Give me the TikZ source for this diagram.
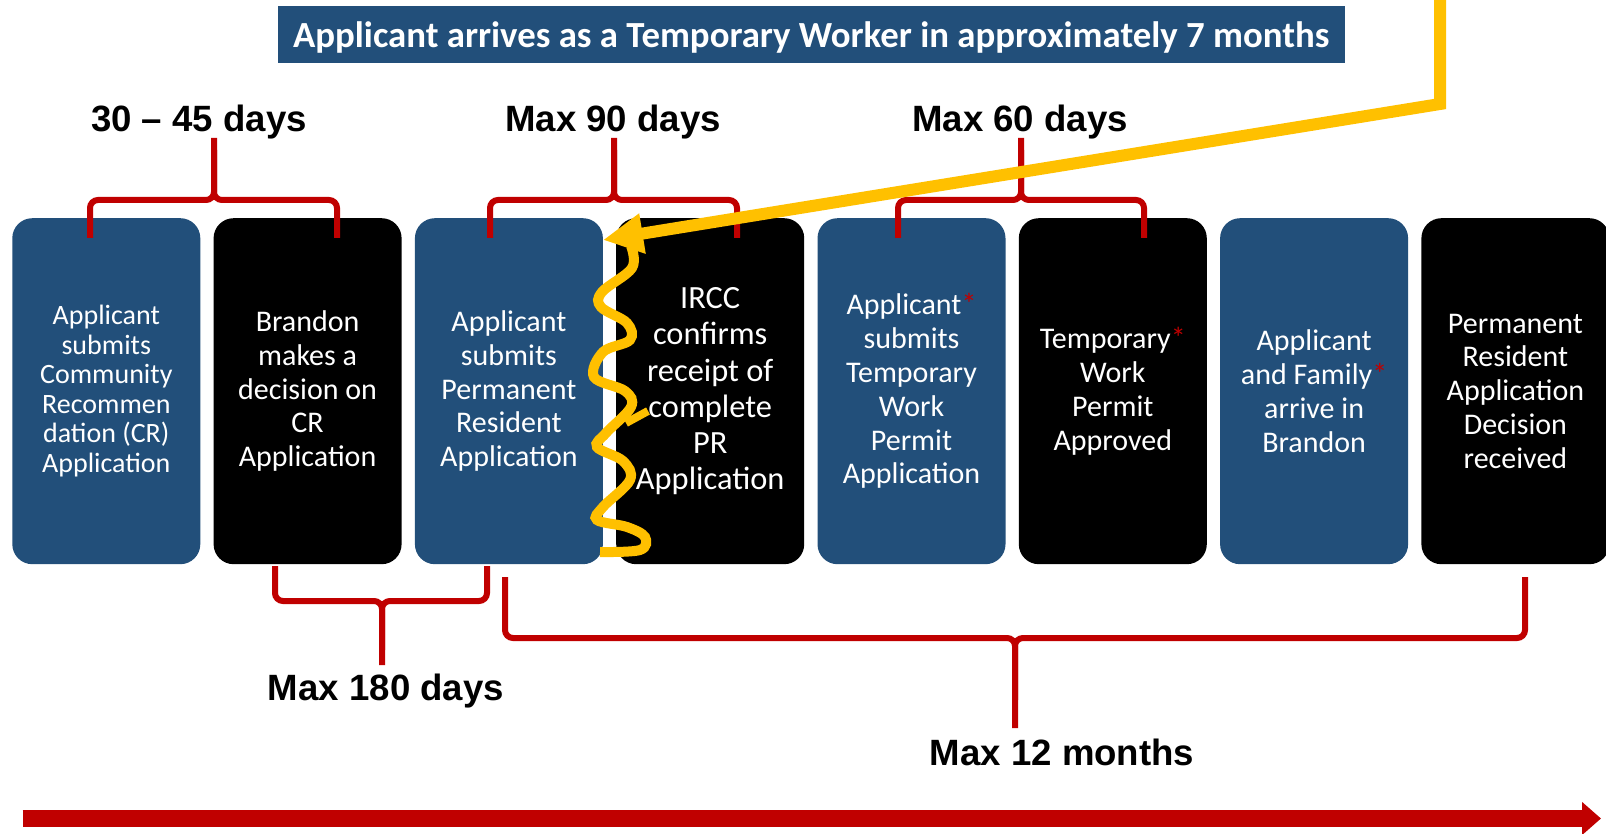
\documentclass[tikz,border=0pt]{standalone}
\usepackage{fontspec}
\setmainfont{Carlito}
\newfontfamily\labelfont{Liberation Sans}
\usetikzlibrary{arrows.meta}
\definecolor{boxblue}{RGB}{34,79,122}
\definecolor{bracered}{RGB}{192,0,0}
\definecolor{hookyellow}{RGB}{255,192,0}
\newcommand{\redstar}{\textcolor{bracered}{*}}

\begin{document}
\begin{tikzpicture}[x=0.5pt,y=-0.5pt]

      \useasboundingbox (0,0) rectangle (1606,834);

      \begin{scope}[every node/.style={rounded corners=10pt,minimum width=94pt,minimum height=173pt,
          inner sep=0pt,text=white,align=center,font=\fontsize{15}{16.9}\selectfont}]
        \node[fill=boxblue,font=\fontsize{14}{14.75}\selectfont] (b1) at (106.3,391.2)
          {Applicant\\submits\\Community\\Recommen\\dation (CR)\\Application};
        \node[fill=black]   (b2) at (307.6,391.2) {Brandon\\makes a\\decision on\\CR\\Application};
        \node[fill=boxblue] (b3) at (508.9,391.2) {Applicant\\submits\\Permanent\\Resident\\Application};
        \node[fill=black,font=\fontsize{16.2}{18.1}\selectfont] (b4) at (710.2,391.2)
          {IRCC\\confirms\\receipt of\\complete\\PR\\Application};
        \node[fill=boxblue] (b5) at (911.5,391.2) {Applicant\redstar\\submits\\Temporary\\Work\\Permit\\Application};
        \node[fill=black]   (b6) at (1112.8,391.2) {Temporary\redstar\\Work\\Permit\\Approved};
        \node[fill=boxblue] (b7) at (1314.1,391.2) {Applicant\\and Family\redstar\\arrive in\\Brandon};
        \node[fill=black]   (b8) at (1515.4,391.2) {Permanent\\Resident\\Application\\Decision\\received};
      \end{scope}

      \begin{scope}[bracered,line width=3pt,rounded corners=4pt]
        \draw (90,238) -- (90,200) -- (214,200) -- (214,138);
        \draw (337,238) -- (337,200) -- (214,200) -- (214,150);
        \draw (490,238) -- (490,200) -- (614,200) -- (614,138);
        \draw (737,238) -- (737,200) -- (614,200) -- (614,150);
        \draw (898,238) -- (898,200) -- (1021,200) -- (1021,138);
        \draw (1144,238) -- (1144,200) -- (1021,200) -- (1021,150);

        \draw (275,566) -- (275,601) -- (382,601) -- (382,665);
        \draw (487,566) -- (487,601) -- (382,601) -- (382,650);
        \draw (505,577) -- (505,638) -- (1015,638) -- (1015,728);
        \draw (1525,577) -- (1525,638) -- (1015,638) -- (1015,700);
      \end{scope}

      \begin{scope}[every node/.style={anchor=base,inner sep=0pt,
          font=\labelfont\bfseries\fontsize{18.3}{20}\selectfont}]
        \node (d1) at (199,132) {30 – 45 days};
        \node (d2) at (613,132) {Max 90 days};
        \node (d3) at (1020,132) {Max 60 days};
        \node (d4) at (386,700) {Max 180 days};
        \node (d5) at (1062,765) {Max 12 months};
      \end{scope}

      \node[fill=boxblue,text=white,minimum width=533.6pt,minimum height=28.6pt,inner sep=0pt,
        text depth=0pt,font=\bfseries\fontsize{18.4}{20}\selectfont] (banner) at (811.2,34.4)
        {Applicant arrives as a Temporary Worker in approximately 7 months};

      \coordinate (t0) at (22.5,818.5);
      \coordinate (t1) at (1601,818.5);
      \draw[bracered,line width=8.5pt,-{Triangle[length=9.5pt,width=16pt]}] (t0) -- (t1);

      \coordinate (hook top)  at (1440,-10);
      \coordinate (hook bend) at (1440,104);
      \coordinate (hook tip)  at (603,240);
      \draw[hookyellow,line width=6pt,-{Triangle[length=20pt,width=19pt]}]
        (hook top) -- (hook bend) -- (hook tip);

      \draw[hookyellow,line width=5pt] plot[smooth,tension=0.6] coordinates {
        (631,246) (632,268) (602,292) (601,307) (627,323) (630,340) (603,352) (594,377)
        (625,391) (631,407) (606,433) (597,447) (623,461) (630,480) (603,507) (597,520)
        (627,527) (645,537) (640,550) (600,552)};
      \draw[hookyellow,line width=4pt] (626,423) -- (648,411);

    \end{tikzpicture}
\end{document}
